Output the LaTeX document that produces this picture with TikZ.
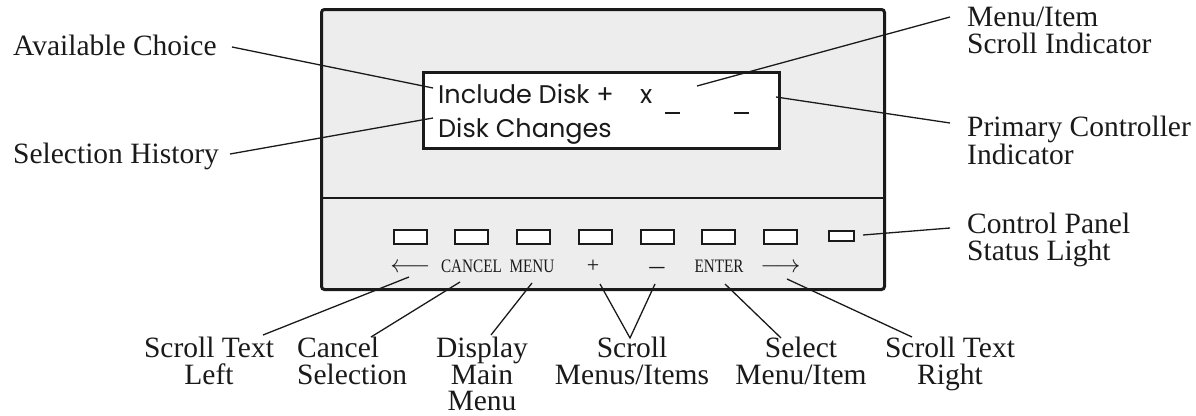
\documentclass[tikz,border=0pt]{standalone}
\usepackage{fontspec}
\setmainfont{Liberation Serif}
\newfontfamily\lcdfont{Poppins}
\newfontfamily\btnfont[FakeStretch=0.8]{Liberation Serif}
\definecolor{panelgray}{HTML}{EDEDED}
\definecolor{ink}{HTML}{1A1A1A}
\begin{document}
\begin{tikzpicture}[x=1pt,y=-1pt,
  lbl/.style={font=\fontsize{29.5}{26.5}\selectfont, inner sep=0pt, text=ink},
  lcd/.style={font=\lcdfont\fontsize{25.5}{25}\selectfont, inner sep=0pt, anchor=base west, text=ink},
  btnlbl/.style={font=\btnfont\fontsize{19}{19}\selectfont, inner sep=0pt, anchor=base, text=ink},
  leader/.style={draw=ink, line width=1.3pt},
  key/.style={draw=ink, fill=white, line width=2pt, minimum width=33pt, minimum height=14pt, inner sep=0pt},
  cursor/.style={draw=ink, line width=2pt}]
\useasboundingbox (0,0) rectangle (1196,415);

% panel
\node[draw=ink, fill=panelgray, line width=3pt, rounded corners=3pt, minimum width=563pt, minimum height=280pt, anchor=north west, inner sep=0pt] (panel) at (320,8) {};
\coordinate (divL) at (320,198);
\coordinate (divR) at (883,198);
\draw[draw=ink, line width=2.5pt] (divL) -- (divR);

% display
\node[draw=ink, fill=white, line width=2.5pt, minimum width=356pt, minimum height=76pt, anchor=north west, inner sep=0pt] (disp) at (422,71) {};
\node[lcd] (line1) at (438,103) {Include Disk +};
\node[lcd] (xmark) at (640,103) {x};
\node[lcd] (line2) at (438,137) {Disk Changes};
\coordinate (c1a) at (665,113); \coordinate (c1b) at (680,113);
\coordinate (c2a) at (734,113); \coordinate (c2b) at (749,113);
\draw[cursor] (c1a) -- (c1b);
\draw[cursor] (c2a) -- (c2b);

% keys
\foreach \i/\xx in {1/410.5,2/471.5,3/533.5,4/595,5/657,6/718,7/780.5}{
  \node[key] (k\i) at (\xx,236.5) {};
}
\node[key, minimum width=25pt, minimum height=10pt] (status) at (841,236) {};

% key labels
\node[btnlbl, font=\fontsize{24}{24}\selectfont] (bl) at (410.5,272) {$\longleftarrow$};
\node[btnlbl] (bcancel) at (471.5,272) {CANCEL};
\node[btnlbl] (bmenu) at (532,272) {MENU};
\node[btnlbl, font=\fontsize{22}{22}\selectfont] (bplus) at (593,272) {+};
\node[btnlbl] (bminus) at (657,272) {\textbf{—}};
\node[btnlbl] (benter) at (719,272) {ENTER};
\node[btnlbl, font=\fontsize{24}{24}\selectfont] (br) at (780.5,272) {$\longrightarrow$};

% left labels
\node[lbl, anchor=base west] (avail) at (13,55) {Available Choice};
\node[lbl, anchor=base west] (hist) at (13,163) {Selection History};
% right labels
\node[lbl, anchor=north west, align=left] (scrollind) at (967,7) {Menu/Item\\Scroll Indicator};
\node[lbl, anchor=north west, align=left] (primary) at (967,116) {Primary Controller\\Indicator};
\node[lbl, anchor=north west, align=left] (statlbl) at (967,213) {Control Panel\\Status Light};
% bottom labels
\node[lbl, anchor=north, align=center] (sleft) at (209,337) {Scroll Text\\Left};
\node[lbl, anchor=north west, align=left] (cancelsel) at (297,337) {Cancel\\Selection};
\node[lbl, anchor=north, align=center] (dispmenu) at (482,337) {Display\\Main\\Menu};
\node[lbl, anchor=north, align=center] (scrollmi) at (632,337) {Scroll\\Menus/Items};
\node[lbl, anchor=north, align=center] (selmi) at (801,337) {Select\\Menu/Item};
\node[lbl, anchor=north, align=center] (sright) at (950,337) {Scroll Text\\Right};

% leader end points
\coordinate (a1) at (232,47);  \coordinate (a2) at (433,88);
\coordinate (h1) at (230,154); \coordinate (h2) at (433,118);
\coordinate (m1) at (950,17);  \coordinate (m2) at (697,86);
\coordinate (p1) at (950,123); \coordinate (p2) at (776,97);
\coordinate (s1) at (950,228); \coordinate (s2) at (863,235);
\coordinate (bl1) at (409,277); \coordinate (bl2) at (263,335);
\coordinate (bc1) at (460,282); \coordinate (bc2) at (371,337);
\coordinate (bm1) at (532,283); \coordinate (bm2) at (491,335);
\coordinate (bp1) at (600,284); \coordinate (bj) at (630,338); \coordinate (bn1) at (655,284);
\coordinate (be1) at (725,284); \coordinate (be2) at (781,338);
\coordinate (br1) at (787,279); \coordinate (br2) at (912,337);

\draw[leader] (a1) -- (a2);
\draw[leader] (h1) -- (h2);
\draw[leader] (m1) -- (m2);
\draw[leader] (p1) -- (p2);
\draw[leader] (s1) -- (s2);
\draw[leader] (bl1) -- (bl2);
\draw[leader] (bc1) -- (bc2);
\draw[leader] (bm1) -- (bm2);
\draw[leader] (bp1) -- (bj) -- (bn1);
\draw[leader] (be1) -- (be2);
\draw[leader] (br1) -- (br2);
\end{tikzpicture}
\end{document}
